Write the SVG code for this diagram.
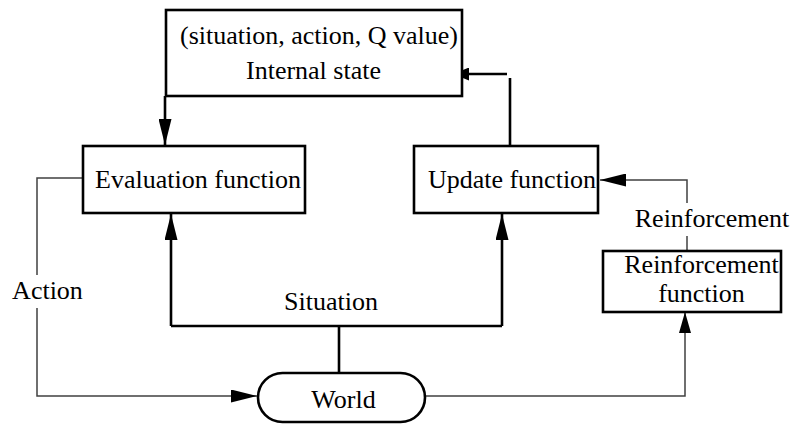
<svg xmlns="http://www.w3.org/2000/svg" width="798" height="424" viewBox="0 0 798 424">
<style>
.box{fill:#fff;stroke:#000;stroke-width:2.6}
.t{font-family:"Liberation Serif","Times New Roman",serif;font-size:26px;fill:#000;text-anchor:middle}
.thick{fill:none;stroke:#000;stroke-width:2.6}
.thin{fill:none;stroke:#404040;stroke-width:1.5}
</style>
<defs>
<marker id="ah" viewBox="0 0 26 13" refX="26" refY="6.5" markerWidth="26" markerHeight="13" markerUnits="userSpaceOnUse" orient="auto">
<path d="M0,0 L26,6.5 L0,13 z" fill="#000"/>
</marker>
<marker id="ahs" viewBox="0 0 16 13" refX="16" refY="6.5" markerWidth="16" markerHeight="13" markerUnits="userSpaceOnUse" orient="auto">
<path d="M0,0 L16,6.5 L0,13 z" fill="#000"/>
</marker>
<marker id="ahm" viewBox="0 0 21 12" refX="21" refY="6" markerWidth="21" markerHeight="12" markerUnits="userSpaceOnUse" orient="auto">
<path d="M0,0 L21,6 L0,12 z" fill="#000"/>
</marker>
</defs>
<g id="connectors">
<path class="thick" d="M165,96 V145" marker-end="url(#ah)"/>
<path class="thick" d="M510,146 V78 M507,74 H453" marker-end="url(#ahs)"/>
<path class="thin" d="M687,203 V180 H600" marker-end="url(#ah)"/>
<path class="thin" d="M687,236 V251"/>
<path class="thin" d="M425,396 H685 V312" marker-end="url(#ahm)"/>
<path class="thick" d="M339,373 V326"/>
<path class="thick" d="M171,326 H502"/>
<path class="thick" d="M171,326 V214" marker-end="url(#ah)"/>
<path class="thick" d="M502,326 V214" marker-end="url(#ah)"/>
<path class="thin" d="M82,178 H37 V275"/>
<path class="thin" d="M37,308 V396 H257" marker-end="url(#ah)"/>
<text class="t" x="331" y="310">Situation</text>
<text class="t" x="47.5" y="299">Action</text>
<text class="t" x="712" y="227">Reinforcement</text>
</g>
<g id="internal-state">
<rect class="box" x="166" y="10" width="296" height="86"/>
<text class="t" x="319" y="44">(situation, action, Q value)</text>
<text class="t" x="313.5" y="79">Internal state</text>
</g>
<g id="evaluation-function">
<rect class="box" x="83" y="146" width="222" height="67"/>
<text class="t" x="198" y="188">Evaluation function</text>
</g>
<g id="update-function">
<rect class="box" x="414" y="146" width="184" height="67"/>
<text class="t" x="512" y="188">Update function</text>
</g>
<g id="reinforcement-function">
<rect class="box" x="603" y="251" width="178" height="61"/>
<text class="t" x="701.5" y="273">Reinforcement</text>
<text class="t" x="701.5" y="302">function</text>
</g>
<g id="world">
<rect class="box" x="258" y="373" width="167" height="49" rx="24.5" ry="24.5"/>
<text class="t" x="343.5" y="408">World</text>
</g>
</svg>
